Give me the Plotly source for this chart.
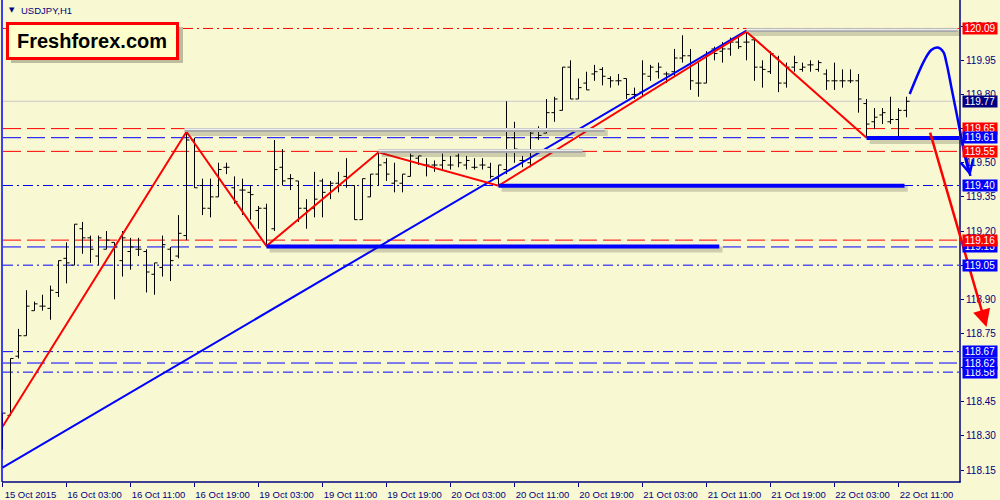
import plotly.graph_objects as go

# ---------------- data ----------------
bar_open = [118.25, 118.39, 118.65, 118.74, 118.85, 118.87, 118.86, 118.93, 119.08, 119.05,
            119.21, 119.17, 119.09, 119.12, 119.15, 119.07, 119.11, 119.12, 119.11, 119.01,
            119.04, 119.12, 119.09, 119.18, 119.60, 119.40, 119.30, 119.35, 119.48, 119.39,
            119.38, 119.37, 119.29, 119.30, 119.21, 119.48, 119.43, 119.42, 119.30, 119.30,
            119.42, 119.40, 119.41, 119.44, 119.40, 119.25, 119.35, 119.45, 119.50, 119.41,
            119.41, 119.44, 119.52, 119.49, 119.49, 119.49, 119.49, 119.53, 119.49, 119.48,
            119.49, 119.48, 119.43, 119.47, 119.61, 119.51, 119.50, 119.61, 119.63, 119.72,
            119.73, 119.92, 119.78, 119.85, 119.89, 119.91, 119.87, 119.86, 119.87, 119.80,
            119.81, 119.88, 119.90, 119.89, 119.90, 119.96, 119.97, 119.85, 119.85, 120.00,
            119.99, 120.00, 120.03, 120.03, 120.04, 119.92, 119.90, 119.96, 119.85, 119.92,
            119.91, 119.93, 119.91, 119.89, 119.86, 119.86, 119.86, 119.86, 119.76, 119.68,
            119.71, 119.68, 119.69, 119.73]
bar_high = [118.40, 118.64, 118.77, 118.94, 118.89, 118.92, 118.96, 119.07, 119.15, 119.23,
            119.24, 119.18, 119.18, 119.20, 119.15, 119.20, 119.17, 119.17, 119.12, 119.06,
            119.18, 119.13, 119.27, 119.63, 119.61, 119.43, 119.43, 119.50, 119.50, 119.44,
            119.43, 119.40, 119.31, 119.32, 119.60, 119.56, 119.45, 119.42, 119.34, 119.46,
            119.43, 119.42, 119.46, 119.52, 119.40, 119.43, 119.45, 119.55, 119.52, 119.50,
            119.45, 119.54, 119.53, 119.52, 119.51, 119.54, 119.53, 119.54, 119.53, 119.52,
            119.52, 119.50, 119.49, 119.77, 119.68, 119.53, 119.64, 119.66, 119.78, 119.79,
            119.92, 119.95, 119.87, 119.90, 119.93, 119.92, 119.88, 119.89, 119.87, 119.83,
            119.95, 119.93, 119.94, 119.90, 120.00, 120.06, 120.00, 119.94, 119.99, 120.01,
            120.03, 120.05, 120.05, 120.08, 120.05, 119.95, 119.99, 119.97, 119.94, 119.97,
            119.94, 119.95, 119.95, 119.91, 119.94, 119.91, 119.91, 119.89, 119.78, 119.74,
            119.74, 119.79, 119.74, 119.79]
bar_low = [118.24, 118.39, 118.64, 118.74, 118.85, 118.85, 118.81, 118.91, 118.97, 119.05,
           119.10, 119.06, 119.05, 119.12, 118.90, 119.00, 119.03, 119.09, 118.93, 118.92,
           119.00, 118.98, 119.08, 119.16, 119.39, 119.27, 119.26, 119.35, 119.45, 119.32,
           119.27, 119.25, 119.21, 119.13, 119.20, 119.40, 119.38, 119.24, 119.21, 119.26,
           119.26, 119.34, 119.37, 119.39, 119.25, 119.25, 119.35, 119.40, 119.42, 119.37,
           119.37, 119.44, 119.49, 119.44, 119.46, 119.47, 119.47, 119.48, 119.47, 119.47,
           119.47, 119.43, 119.40, 119.45, 119.50, 119.48, 119.48, 119.60, 119.63, 119.68,
           119.73, 119.78, 119.78, 119.82, 119.86, 119.84, 119.83, 119.84, 119.78, 119.78,
           119.79, 119.86, 119.87, 119.85, 119.88, 119.94, 119.82, 119.79, 119.85, 119.95,
           119.94, 119.97, 120.00, 119.95, 119.86, 119.83, 119.89, 119.81, 119.83, 119.90,
           119.90, 119.90, 119.90, 119.82, 119.82, 119.83, 119.85, 119.72, 119.61, 119.65,
           119.67, 119.67, 119.61, 119.70]
bar_close = [118.40, 118.64, 118.74, 118.87, 118.88, 118.87, 118.94, 119.07, 119.06, 119.23,
             119.17, 119.12, 119.17, 119.16, 119.13, 119.17, 119.13, 119.12, 119.02, 119.06,
             119.14, 119.07, 119.19, 119.60, 119.39, 119.30, 119.35, 119.47, 119.48, 119.33,
             119.38, 119.36, 119.30, 119.14, 119.47, 119.42, 119.43, 119.30, 119.29, 119.34,
             119.37, 119.41, 119.40, 119.40, 119.25, 119.43, 119.45, 119.49, 119.45, 119.42,
             119.45, 119.53, 119.53, 119.49, 119.49, 119.51, 119.49, 119.50, 119.51, 119.48,
             119.49, 119.44, 119.49, 119.61, 119.56, 119.51, 119.63, 119.62, 119.72, 119.78,
             119.92, 119.78, 119.83, 119.82, 119.90, 119.88, 119.86, 119.86, 119.80, 119.80,
             119.89, 119.92, 119.92, 119.89, 119.96, 119.97, 119.86, 119.85, 119.98, 119.98,
             120.00, 120.03, 120.01, 120.03, 119.92, 119.91, 119.98, 119.85, 119.92, 119.94,
             119.92, 119.93, 119.94, 119.86, 119.86, 119.86, 119.86, 119.78, 119.67, 119.70,
             119.72, 119.69, 119.73, 119.77]
bar_index = list(range(len(bar_open)))

time_tick_pos = [0, 8, 16, 24, 32, 40, 48, 56, 64, 72, 80, 88, 96, 104, 112]
time_tick_labels = ["15 Oct 2015", "16 Oct 03:00", "16 Oct 11:00", "16 Oct 19:00",
                    "19 Oct 03:00", "19 Oct 11:00", "19 Oct 19:00", "20 Oct 03:00",
                    "20 Oct 11:00", "20 Oct 19:00", "21 Oct 03:00", "21 Oct 11:00",
                    "21 Oct 19:00", "22 Oct 03:00", "22 Oct 11:00"]
price_ticks = [118.15, 118.30, 118.45, 118.60, 118.75, 118.90, 119.05,
               119.20, 119.35, 119.50, 119.65, 119.80, 119.95, 120.10]

level_prices = [120.09, 119.65, 119.61, 119.55, 119.40, 119.16, 119.13, 119.05, 118.67, 118.62, 118.58]
level_kind = ["red", "red", "blue", "red", "blue", "red", "blue", "blue", "blue", "blue", "blue"]
level_dash = ["dashdot", "dash", "dash", "dash", "dashdot", "dash", "dash", "dashdot", "dashdot", "dash", "dashdot"]
bid_price = 119.77

zigzag_x = [0, 23, 33, 47, 62, 93, 108]
zigzag_y = [118.34, 119.636, 119.134, 119.546, 119.399, 120.076, 119.61]
trend_x = [0, 93]
trend_y = [118.16, 120.08]

support_x0 = [33, 62, 108]
support_x1 = [89.6, 112.75, 119.6]
support_y = [119.132, 119.399, 119.609]
resist_x0 = [22.75, 47, 93]
resist_x1 = [75.25, 72.5, 119.4]
resist_y = [119.644, 119.552, 120.083]

curve_x = [113.4, 115.25, 116.1, 116.9, 117.6, 118.0, 118.6, 119.25, 119.9, 120.5, 121.0]
curve_y = [119.802, 119.951, 119.995, 120.006, 119.987, 119.938, 119.833, 119.719, 119.60, 119.499, 119.442]
red_arrow_from = (115.9, 119.639)
red_arrow_to = (123.0, 118.778)

# ---------------- figure ----------------
BG = "#F8F8D3"
NAVY = "#000080"
RED = "#FF0000"
BLUE = "#0000FF"
FONT = "Liberation Sans"
PXPRICE = 1 / 227.6  # price per pixel

ML, MR, MT, MB = 2, 0, 2, 18
W, H = 1000, 500
PW, PH = W - ML - MR, H - MT - MB


def px(xp):
    return (xp - ML) / PW


def py(yp):
    return (H - MB - yp) / PH


fig = go.Figure()

shapes = []
dash_map = {"dash": "18px,6px", "dashdot": "10px,4px,2px,4px"}
# level lines
for p, k, d in zip(level_prices, level_kind, level_dash):
    shapes.append(dict(type="line", xref="paper", yref="y", x0=px(3), x1=px(960), y0=p, y1=p,
                       line=dict(color=RED if k == "red" else BLUE, width=1, dash=dash_map[d]),
                       layer="below"))
shapes.append(dict(type="line", xref="paper", yref="y", x0=px(3), x1=px(960), y0=bid_price, y1=bid_price,
                   line=dict(color="#C8C8C8", width=1), layer="below"))

# resistance (silver) lines
for x0, x1, y in zip(resist_x0, resist_x1, resist_y):
    shapes.append(dict(type="line", x0=x0 + 0.4, x1=x1 + 0.4, y0=y - 3 * PXPRICE, y1=y - 3 * PXPRICE,
                       line=dict(color="rgba(60,60,40,0.22)", width=6)))
    shapes.append(dict(type="line", x0=x0, x1=x1, y0=y, y1=y, line=dict(color="#A9A9A9", width=4)))
    shapes.append(dict(type="line", x0=x0, x1=x1, y0=y + 0.6 * PXPRICE, y1=y + 0.6 * PXPRICE,
                       line=dict(color="#EDEDED", width=1.5)))
# support (blue) lines
for x0, x1, y in zip(support_x0, support_x1, support_y):
    shapes.append(dict(type="line", x0=x0 + 0.4, x1=x1 + 0.4, y0=y - 3 * PXPRICE, y1=y - 3 * PXPRICE,
                       line=dict(color="rgba(60,60,40,0.22)", width=6)))
    shapes.append(dict(type="line", x0=x0, x1=x1, y0=y, y1=y, line=dict(color=BLUE, width=4)))

# frame
shapes.append(dict(type="line", xref="paper", yref="paper", x0=px(2), x1=px(2), y0=py(482), y1=py(0),
                   line=dict(color=BLUE, width=1.5)))
shapes.append(dict(type="line", xref="paper", yref="paper", x0=px(2), x1=px(960.5), y0=py(482), y1=py(482),
                   line=dict(color=NAVY, width=1.5)))
shapes.append(dict(type="line", xref="paper", yref="paper", x0=px(960), x1=px(960), y0=py(482.5), y1=py(0),
                   line=dict(color=NAVY, width=1.5)))

# logo box
shapes.append(dict(type="rect", xref="paper", yref="paper", x0=px(11), x1=px(183), y0=py(63), y1=py(27),
                   fillcolor="rgba(80,80,60,0.35)", line=dict(width=0)))
shapes.append(dict(type="rect", xref="paper", yref="paper", x0=px(7.5), x1=px(177.5), y0=py(58.5), y1=py(23.5),
                   fillcolor="#FFFFCC", line=dict(color=RED, width=3)))

# bars
fig.add_trace(go.Ohlc(x=bar_index, open=bar_open, high=bar_high, low=bar_low, close=bar_close,
                      increasing=dict(line=dict(color="black", width=1)),
                      decreasing=dict(line=dict(color="black", width=1)),
                      tickwidth=0.38, showlegend=False, hoverinfo="skip"))
# trend & zigzag
fig.add_trace(go.Scatter(x=trend_x, y=trend_y, mode="lines", line=dict(color=BLUE, width=2),
                         showlegend=False, hoverinfo="skip"))
fig.add_trace(go.Scatter(x=zigzag_x, y=zigzag_y, mode="lines", line=dict(color=RED, width=2),
                         showlegend=False, hoverinfo="skip"))
# hand-drawn blue curve
fig.add_trace(go.Scatter(x=curve_x, y=curve_y, mode="lines", line=dict(color=BLUE, width=2.5, shape="spline"),
                         showlegend=False, hoverinfo="skip"))

annotations = []
# red arrow
annotations.append(dict(x=red_arrow_to[0], y=red_arrow_to[1], ax=red_arrow_from[0], ay=red_arrow_from[1],
                        xref="x", yref="y", axref="x", ayref="y", text="", showarrow=True,
                        arrowhead=2, arrowsize=1.4, arrowwidth=2.5, arrowcolor=RED))
# blue arrow head
annotations.append(dict(x=curve_x[-1], y=curve_y[-1], ax=curve_x[-3], ay=curve_y[-3],
                        xref="x", yref="y", axref="x", ayref="y", text="", showarrow=True,
                        arrowhead=5, arrowsize=1.0, arrowwidth=2.5, arrowcolor=BLUE))

# right-side price labels
label_order = [0, 1, 2, 3, 4, 6, 5, 7, 8, 10, 9]
for idx in label_order:
    p = level_prices[idx]
    annotations.append(dict(xref="paper", yref="y", x=px(962), y=p, xanchor="left", yanchor="middle",
                            text=f"{p:.2f}", showarrow=False, width=34, height=11, borderpad=0,
                            bgcolor=RED if level_kind[idx] == "red" else BLUE,
                            font=dict(family=FONT, size=10, color="white"), align="center"))
annotations.append(dict(xref="paper", yref="y", x=px(962), y=bid_price, xanchor="left", yanchor="middle",
                        text=f"{bid_price:.2f}", showarrow=False, width=34, height=11, borderpad=0,
                        bgcolor=NAVY, font=dict(family=FONT, size=10, color="white"), align="center"))

# title and logo text
annotations.append(dict(xref="paper", yref="paper", x=px(7), y=py(10), xanchor="left", yanchor="middle",
                        text="▼", showarrow=False, font=dict(family="DejaVu Sans", size=7, color=NAVY)))
annotations.append(dict(xref="paper", yref="paper", x=px(19), y=py(10), xanchor="left", yanchor="middle",
                        text="USDJPY,H1", showarrow=False, font=dict(family=FONT, size=9.5, color=NAVY)))
annotations.append(dict(xref="paper", yref="paper", x=px(92), y=py(41), xanchor="center", yanchor="middle",
                        text="<b>Freshforex.com</b>", showarrow=False,
                        font=dict(family=FONT, size=20, color="black")))

fig.update_layout(
    width=W, height=H,
    margin=dict(l=ML, r=MR, t=MT, b=MB, pad=0),
    paper_bgcolor=BG, plot_bgcolor=BG,
    shapes=shapes, annotations=annotations,
    showlegend=False,
    xaxis=dict(range=[-0.0625, (W - 2.5) / 8], showgrid=False, zeroline=False, showline=False,
               tickmode="array", tickvals=time_tick_pos, ticktext=time_tick_labels,
               ticks="outside", ticklen=4, tickcolor=NAVY, tickwidth=1,
               tickfont=dict(family=FONT, size=9.5, color=NAVY), ticklabelshift=28,
               rangeslider=dict(visible=False), fixedrange=True),
    yaxis=dict(range=[118.15 - 12 * PXPRICE, 118.15 + 468 * PXPRICE], showgrid=False, zeroline=False,
               showline=False, anchor="free", position=px(960), side="right",
               tickmode="array", tickvals=price_ticks, ticktext=[f"{v:.2f}" for v in price_ticks],
               ticks="outside", ticklen=3, tickcolor=NAVY, tickwidth=1,
               tickfont=dict(family=FONT, size=10, color=NAVY), fixedrange=True),
)

fig.write_html("out.html", config={"displayModeBar": False},
               post_script="document.body.style.margin='0';document.body.style.background='" + BG + "';")
